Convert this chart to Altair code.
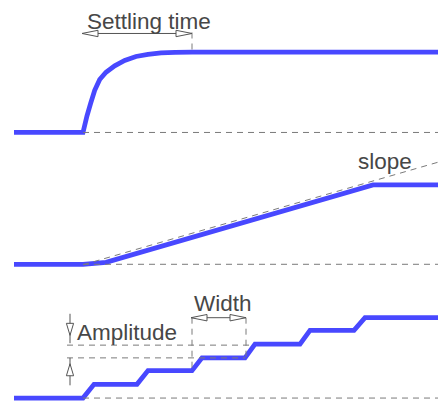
import altair as alt
import pandas as pd

# ---- Signal traces (time, level) in diagram units ----
step_t = [14, 83, 87, 90.7, 94.7, 99.7, 106, 114.7, 124.7, 136, 148, 161, 175, 192, 446]
step_v = [135, 135, 118, 105, 92, 81, 73.5, 67, 61.5, 57.5, 55.3, 53.8, 53.2, 53, 53]
ramp_t = [14, 83, 106, 373, 446]
ramp_v = [269.5, 269.5, 267.5, 188.5, 188.5]
stair_t = [14, 83, 94, 137, 148, 192, 202, 245, 255, 300, 310, 354, 365, 446]
stair_v = [406, 406, 392, 392, 378, 378, 365, 365, 351, 351, 337, 337, 324, 324]

# ---- Dashed reference lines ----
dash_x1 = [83, 192, 83, 83, 83, 67, 67, 192, 246]
dash_y1 = [135, 33, 269.5, 270, 406, 352, 365, 324, 324]
dash_x2 = [446, 192, 446, 446, 446, 252, 245, 192, 246]
dash_y2 = [135, 53, 269.5, 163, 406, 352, 365, 378, 365]

# ---- Dimension lines ----
dim_x1 = [82, 70, 70, 191]
dim_y1 = [34, 320, 365, 324]
dim_x2 = [192, 70, 70, 246]
dim_y2 = [34, 350, 393, 324]

# ---- Arrow heads ----
head_x = [82, 192, 70, 70, 191, 246]
head_y = [34, 34, 342, 371, 324, 324]
head_dir = ["left", "right", "down", "up", "left", "right"]

# ---- Labels ----
label_text = ["Settling time", "slope", "Amplitude", "Width"]
label_x = [87, 358, 77, 194]
label_y = [29, 172, 347, 317]

rows = []
for name, ts, vs in [("step", step_t, step_v), ("ramp", ramp_t, ramp_v), ("stair", stair_t, stair_v)]:
    for i, (t, v) in enumerate(zip(ts, vs)):
        rows.append({"series": name, "i": i, "t": t, "v": v})
traces = pd.DataFrame(rows)

dashes = pd.DataFrame({"x1": dash_x1, "y1": dash_y1, "x2": dash_x2, "y2": dash_y2})
dims = pd.DataFrame({"x1": dim_x1, "y1": dim_y1, "x2": dim_x2, "y2": dim_y2})
heads = pd.DataFrame({"x": head_x, "y": head_y, "dir": head_dir})
labels = pd.DataFrame({"text": label_text, "x": label_x, "y": label_y})

xs = alt.Scale(domain=[8, 438], nice=False, zero=False)
ys = alt.Scale(domain=[8, 409], nice=False, zero=False, reverse=True)

lines = alt.Chart(traces).mark_line(color="#4848ff", strokeWidth=4.8, strokeJoin="miter", clip=True).encode(
    x=alt.X("t:Q", scale=xs, axis=None),
    y=alt.Y("v:Q", scale=ys, axis=None),
    detail="series:N",
    order="i:Q",
)

dashed = alt.Chart(dashes).mark_rule(color="#7a7a7a", strokeWidth=1, strokeDash=[6, 5], clip=True).encode(
    x=alt.X("x1:Q", scale=xs, axis=None),
    y=alt.Y("y1:Q", scale=ys, axis=None),
    x2="x2:Q",
    y2="y2:Q",
)

dimlines = alt.Chart(dims).mark_rule(color="#555555", strokeWidth=1).encode(
    x=alt.X("x1:Q", scale=xs, axis=None),
    y=alt.Y("y1:Q", scale=ys, axis=None),
    x2="x2:Q",
    y2="y2:Q",
)

paths = [
    "M0,0 L2,-0.4 L2,0.4 Z",
    "M0,0 L-2,-0.4 L-2,0.4 Z",
    "M0,0 L-0.45,-1.5 L0.45,-1.5 Z",
    "M0,0 L-0.45,1.5 L0.45,1.5 Z",
]
arrowheads = alt.Chart(heads).mark_point(
    filled=False, fill="white", fillOpacity=1, stroke="#555555", strokeWidth=1, opacity=1, size=256
).encode(
    x=alt.X("x:Q", scale=xs, axis=None),
    y=alt.Y("y:Q", scale=ys, axis=None),
    shape=alt.Shape("dir:N", scale=alt.Scale(domain=["left", "right", "down", "up"], range=paths), legend=None),
)

texts = alt.Chart(labels).mark_text(
    align="left", baseline="alphabetic", font="Liberation Sans", fontSize=22.5, color="#474747"
).encode(
    x=alt.X("x:Q", scale=xs, axis=None),
    y=alt.Y("y:Q", scale=ys, axis=None),
    text="text:N",
)

chart = alt.layer(lines, dashed, dimlines, arrowheads, texts).properties(
    width=430, height=393, padding=0, autosize="none", background="white"
).configure_view(stroke=None)

chart.save("out.html", embed_options={"renderer": "svg", "actions": False})
